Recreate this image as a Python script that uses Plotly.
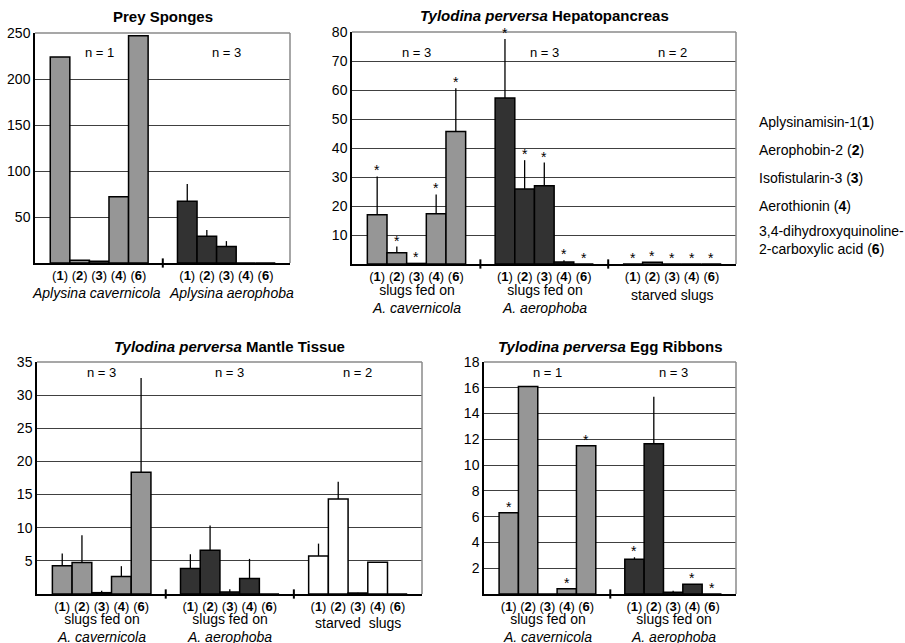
import plotly.graph_objects as go

# ---------------- data ----------------
compounds = ["1", "2", "3", "4", "6"]
legend_names = ["Aplysinamisin-1(<b>1</b>)", "Aerophobin-2 (<b>2</b>)", "Isofistularin-3 (<b>3</b>)",
                "Aerothionin (<b>4</b>)", "3,4-dihydroxyquinoline-<br>2-carboxylic acid (<b>6</b>)"]

prey_title = "<b>Prey Sponges</b>"
prey_groups = ["<i>Aplysina cavernicola</i>", "<i>Aplysina aerophoba</i>"]
prey_n = ["n = 1", "n = 3"]
prey_values = [[224, 3, 2, 72, 247], [67, 29, 18, 0, 0]]
prey_errors = [[0, 0, 0, 0, 0], [18.8, 7, 5.8, 0, 0]]
prey_stars = [[0, 0, 0, 0, 0], [0, 0, 0, 0, 0]]
prey_yticks = [50, 100, 150, 200, 250]

hep_title = "<b><i>Tylodina perversa</i> Hepatopancreas</b>"
hep_groups = ["slugs fed on<br><i>A. cavernicola</i>", "slugs fed on<br><i>A. aerophoba</i>", "starved slugs"]
hep_n = ["n = 3", "n = 3", "n = 2"]
hep_values = [[17, 3.9, 0.2, 17.3, 45.7], [57.2, 25.9, 27.0, 0.7, 0], [0, 0.6, 0, 0, 0]]
hep_errors = [[13.2, 2.1, 0, 6.7, 14.9], [20.4, 9.9, 8.0, 0.6, 0], [0, 0, 0, 0, 0]]
hep_stars = [[1, 1, 1, 1, 1], [1, 1, 1, 1, 1], [1, 1, 1, 1, 1]]
hep_yticks = [10, 20, 30, 40, 50, 60, 70, 80]

man_title = "<b><i>Tylodina perversa</i> Mantle Tissue</b>"
man_groups = ["slugs fed on<br><i>A. cavernicola</i>", "slugs fed on<br><i>A. aerophoba</i>", "starved  slugs"]
man_n = ["n = 3", "n = 3", "n = 2"]
man_values = [[4.25, 4.75, 0.2, 2.65, 18.35], [3.85, 6.6, 0.3, 2.35, 0], [5.75, 14.35, 0.15, 4.8, 0]]
man_errors = [[1.85, 4.1, 0.3, 1.55, 14.25], [2.15, 3.75, 0.4, 2.95, 0], [1.85, 2.6, 0.05, 0, 0]]
man_stars = [[0, 0, 0, 0, 0], [0, 0, 0, 0, 0], [0, 0, 0, 0, 0]]
man_yticks = [5, 10, 15, 20, 25, 30, 35]

egg_title = "<b><i>Tylodina perversa</i> Egg Ribbons</b>"
egg_groups = ["slugs fed on<br><i>A. cavernicola</i>", "slugs fed on<br><i>A. aerophoba</i>"]
egg_n = ["n = 1", "n = 3"]
egg_values = [[6.3, 16.1, 0, 0.4, 11.5], [2.7, 11.65, 0.13, 0.75, 0]]
egg_errors = [[0, 0, 0, 0, 0], [0.15, 3.65, 0.12, 0, 0]]
egg_stars = [[1, 0, 0, 1, 1], [1, 0, 0, 1, 1]]
egg_yticks = [2, 4, 6, 8, 10, 12, 14, 16, 18]

group_colors = ["#969696", "#323232", "#ffffff"]

# ---------------- layout helpers ----------------
W, H = 905, 643
FONT = "Liberation Sans, Arial, sans-serif"
GAP = 6.5


def px(x):
    return x / W


def py(y):
    return 1 - y / H


fig = go.Figure()
annotations = []
shapes = []
layout = {}


def add_panel(idx, title, groups, ns, values, errors, stars, yticks,
              xdom, ydom, n_y, label_y, label_dx=(0, 0, 0)):
    xa = "x" if idx == 1 else f"x{idx}"
    ya = "y" if idx == 1 else f"y{idx}"
    xkey = "xaxis" if idx == 1 else f"xaxis{idx}"
    ykey = "yaxis" if idx == 1 else f"yaxis{idx}"
    ng = len(groups)
    tickvals, ticktext = [], []
    for g in range(ng):
        xs = [g * GAP + i for i in range(len(compounds))]
        tickvals += xs
        ticktext += [f"(<b>{c}</b>)" for c in compounds]
        fig.add_trace(go.Bar(
            x=xs, y=values[g], width=1, xaxis=xa, yaxis=ya,
            marker=dict(color=group_colors[g], line=dict(color="black", width=1.5)),
            error_y=dict(type="data", array=errors[g], arrayminus=[0] * len(xs),
                         symmetric=False, color="black", thickness=1.3, width=0),
            showlegend=False, hoverinfo="skip"))
        for i, s in enumerate(stars[g]):
            if s:
                annotations.append(dict(x=xs[i], y=values[g][i] + errors[g][i], xref=xa, yref=ya,
                                        text="*", showarrow=False, yanchor="bottom", yshift=-4,
                                        font=dict(size=14, color="black", family=FONT)))
        annotations.append(dict(x=g * GAP + 2, y=py(n_y), xref=xa, yref="paper", text=ns[g],
                                showarrow=False, font=dict(size=13, color="black", family=FONT)))
        ly = label_y[1] if "starved" in groups[g] else label_y[0]
        annotations.append(dict(x=g * GAP + 2, y=py(ly), xref=xa, yref="paper", text=groups[g],
                                showarrow=False, yanchor="middle", xshift=label_dx[g],
                                font=dict(size=14, color="black", family=FONT)))
        if g > 0:
            shapes.append(dict(type="line", xref=xa, yref=f"{ya} domain",
                               x0=g * GAP - 1.25, x1=g * GAP - 1.25, y0=-0.02, y1=0.02,
                               line=dict(color="black", width=2)))
    # title
    annotations.append(dict(x=0.5, y=1, xref=f"{xa} domain", yref=f"{ya} domain", text=title,
                            showarrow=False, yanchor="middle", yshift=16,
                            font=dict(size=15, color="black", family=FONT)))
    # top / right frame
    shapes.append(dict(type="line", xref=f"{xa} domain", yref=f"{ya} domain", x0=0, x1=1, y0=1, y1=1,
                       line=dict(color="#8a8a8a", width=1.5), layer="above"))
    shapes.append(dict(type="line", xref=f"{xa} domain", yref=f"{ya} domain", x0=1, x1=1, y0=0, y1=1,
                       line=dict(color="#8a8a8a", width=1.5), layer="above"))
    layout[xkey] = dict(domain=[px(xdom[0]), px(xdom[1])], anchor=ya, automargin=False,
                        range=[-1.28, ng * GAP - 1.25], tickvals=tickvals, ticktext=ticktext,
                        ticks="", showgrid=False, zeroline=False, showline=True,
                        linecolor="black", linewidth=1.5, fixedrange=True,
                        tickfont=dict(size=13, color="black", family=FONT))
    layout[ykey] = dict(domain=[py(ydom[1]), py(ydom[0])], anchor=xa, automargin=False,
                        range=[0, yticks[-1]], tickvals=yticks, ticks="",
                        showgrid=True, gridcolor="#404040", gridwidth=1.2, zeroline=False,
                        showline=True, linecolor="black", linewidth=1.5,
                        tickfont=dict(size=14, color="black", family=FONT))


add_panel(1, prey_title, prey_groups, prey_n, prey_values, prey_errors, prey_stars, prey_yticks,
          (35, 290), (33, 263), 43, (293, 293), label_dx=(-3, 5, 0))
add_panel(2, hep_title, hep_groups, hep_n, hep_values, hep_errors, hep_stars, hep_yticks,
          (352, 736), (32, 264), 43, (298.5, 295))
add_panel(3, man_title, man_groups, man_n, man_values, man_errors, man_stars, man_yticks,
          (37, 422), (362, 594), 372, (627.5, 623))
add_panel(4, egg_title, egg_groups, egg_n, egg_values, egg_errors, egg_stars, egg_yticks,
          (484, 736), (362, 594), 372, (627.5, 623))

legend_y = [122, 150, 178, 206, 240]
for name, ly in zip(legend_names, legend_y):
    annotations.append(dict(x=px(757), y=py(ly), xref="paper", yref="paper", text=name,
                            showarrow=False, xanchor="left", yanchor="middle", align="left",
                            font=dict(size=14, color="black", family=FONT)))

fig.update_layout(width=W, height=H, margin=dict(l=0, r=0, t=0, b=0, autoexpand=False),
                  paper_bgcolor="white", plot_bgcolor="white", barmode="overlay",
                  font=dict(family=FONT, color="black"),
                  annotations=annotations, shapes=shapes, **layout)

post = ("document.body.style.margin='0';"
        "var gd=document.getElementById('{plot_id}');"
        "gd.style.position='fixed';gd.style.top='0px';gd.style.left='0px';")
fig.write_html("out.html", post_script=post, config={"displayModeBar": False})
